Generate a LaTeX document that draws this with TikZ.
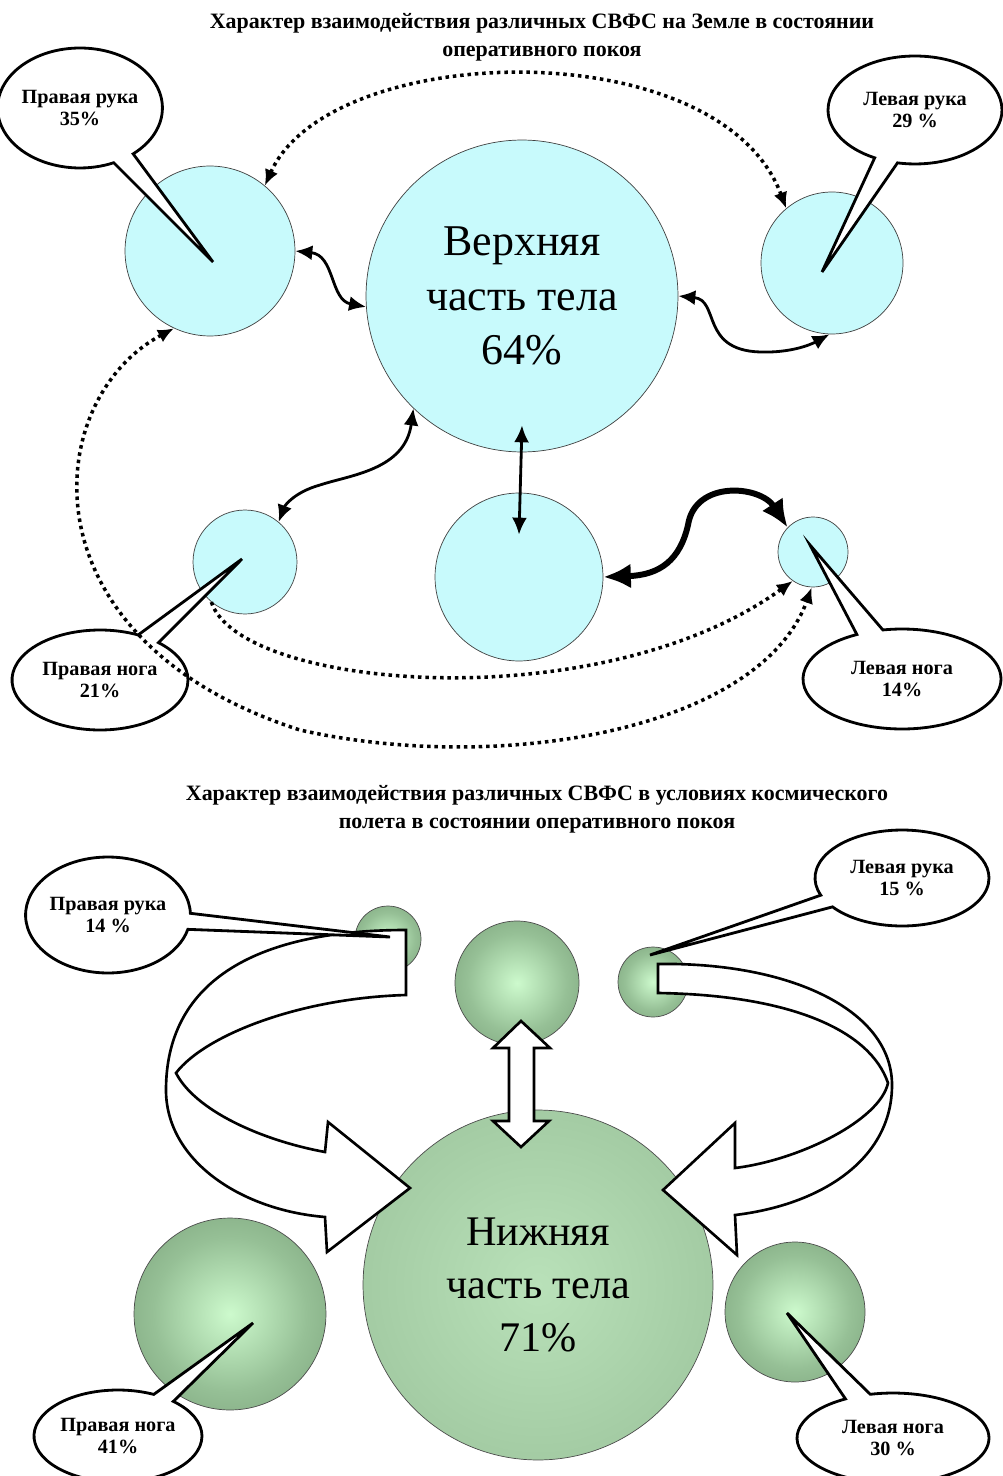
\documentclass[tikz,border=0pt]{standalone}
\usepackage{fontspec}
\setmainfont{Liberation Serif}
\usepackage{tikz}
\usetikzlibrary{arrows.meta,shapes.callouts,calc}

\definecolor{skyfill}{RGB}{200,250,252}
\definecolor{sphin}{RGB}{205,250,205}
\definecolor{sphmid}{RGB}{150,192,150}
\definecolor{sphout}{RGB}{98,135,98}
\definecolor{lowin}{RGB}{185,225,185}
\definecolor{lowout}{RGB}{142,182,142}
\pgfdeclareradialshading{sphshade}{\pgfpoint{0bp}{0bp}}{color(0bp)=(sphin); color(20bp)=(sphmid); color(50bp)=(sphout)}
\pgfdeclareradialshading{lowshade}{\pgfpoint{0bp}{0bp}}{color(0bp)=(lowin); color(50bp)=(lowout)}

\begin{document}
\begin{tikzpicture}[x=0.02cm,y=-0.02cm,>=latex]

		\tikzset{
			skycirc/.style={circle, draw=black!75, line width=0.4pt, fill=skyfill, inner sep=0pt},
			greenball/.style={circle, draw=black!70, line width=0.4pt, shading=sphshade, inner sep=0pt},
			bubble/.style={ellipse callout, draw=black, line width=1.6pt, fill=white, align=center,
				inner sep=0pt, callout pointer arc=16, font=\bfseries\fontsize{11.5}{13}\selectfont},
			headline/.style={align=center, font=\bfseries\fontsize{12.5}{15.9}\selectfont},
			dotlink/.style={line width=2pt, dash pattern=on 2pt off 2.2pt, >={Latex[length=0.32cm,width=0.28cm]}},
			wavelink/.style={line width=1.6pt, >={Latex[length=0.34cm,width=0.3cm]}},
			fatlink/.style={line width=3.4pt, >={Latex[length=0.55cm,width=0.5cm]}},
			blockarrow/.style={draw=black, line width=1.5pt, fill=white, line join=miter}
		}

		\useasboundingbox (0,0) rectangle (1003,1476);

		% ===== ВЕРХНЯЯ СХЕМА (НА ЗЕМЛЕ) =====
		\node[headline] (title1) at (542,37)
		{Характер взаимодействия различных СВФС на Земле в состоянии\\оперативного покоя};

		\node[skycirc, minimum size=3.4cm] (hRA) at (210,251) {};
		\node[skycirc, minimum size=2.84cm] (hLA) at (832,263) {};
		\node[skycirc, minimum size=6.24cm, align=center, font=\fontsize{25}{31}\selectfont] (hUp) at (522,296)
		{Верхняя\\часть тела\\64\%};
		\node[skycirc, minimum size=2.08cm] (hRL) at (245,562) {};
		\node[skycirc, minimum size=3.36cm] (hLow) at (519,577) {};
		\node[skycirc, minimum size=1.4cm] (hLL) at (813,552) {};

		% ===== ВЫНОСКИ =====
		\node[bubble, minimum width=2.72cm, minimum height=2.4cm, callout absolute pointer={(213,262)}] (cRA)
		at (80,108) {Правая рука\\35\%};
		\node[bubble, minimum width=3.48cm, minimum height=2.16cm, callout absolute pointer={(822,272)}] (cLA)
		at (915,110) {Левая рука\\29 \%};
		\node[bubble, minimum width=3.52cm, minimum height=2.0cm, callout absolute pointer={(242,559)}] (cRL)
		at (100,680) {Правая нога\\21\%};
		\node[bubble, minimum width=3.96cm, minimum height=2.0cm, callout absolute pointer={(810,545)}] (cLL)
		at (902,679) {Левая нога\\14\%};

		% ===== СВЯЗИ =====
		\draw[dotlink, <->] (hRA.50) .. controls (330,40) and (720,30) .. (hLA.130);
		\draw[wavelink, <->] (hRA.east) .. controls (335,255) and (330,300) .. (hUp.184);
		\draw[wavelink, <->] (hUp.east) .. controls (720,300) and (700,350) .. (760,352)
		.. controls (790,353) and (810,345) .. (hLA.268);
		\draw[dotlink, <->] (hRA.245) .. controls (40,400) and (20,640) .. (300,730)
		.. controls (500,775) and (760,730) .. (hLL.268);
		\draw[dotlink, ->] (hRL.230) .. controls (240,690) and (600,720) .. (hLL.235);
		\draw[wavelink, <->] (hUp.226) .. controls (405,470) and (350,475) .. (320,485)
		.. controls (295,492) and (285,505) .. (hRL.50);
		\draw[wavelink, <->] ([yshift=0.54cm]hUp.south) -- ([yshift=-0.84cm]hLow.north);
		\draw[fatlink, <->] (hLow.east) .. controls (660,575) and (680,560) .. (688,525)
		.. controls (695,480) and (760,485) .. (hLL.136);

		% ===== НИЖНЯЯ СХЕМА (КОСМИЧЕСКИЙ ПОЛЕТ) =====
		\node[headline] (title2) at (537,809)
		{Характер взаимодействия различных СВФС в условиях космического\\полета в состоянии оперативного покоя};

		\node[greenball, minimum size=1.32cm] (sRA) at (388,939) {};
		\node[greenball, minimum size=2.48cm] (sUp) at (517,983) {};
		\node[greenball, minimum size=1.4cm] (sLA) at (653,982) {};
		\node[greenball, minimum size=3.84cm] (sRL) at (230,1314) {};
		\node[greenball, minimum size=2.8cm] (sLL) at (795,1312) {};
		\node[greenball, shading=lowshade, minimum size=7cm, align=center, font=\fontsize{24}{30}\selectfont] (sLow)
		at (538,1285) {Нижняя\\часть тела\\71\%};

		% ===== ОБЪЕМНЫЕ СТРЕЛКИ =====
		\draw[blockarrow] (406,930) .. controls (250,930) and (166,985) .. (166,1090)
		.. controls (166,1160) and (240,1210) .. (325,1217)
		-- (327,1252) -- (410,1188) -- (328,1122) -- (325,1152)
		.. controls (260,1140) and (195,1110) .. (176,1073)
		.. controls (205,1035) and (300,998) .. (406,995) -- cycle;

		\draw[blockarrow] (658,964) .. controls (790,962) and (892,1010) .. (892,1085)
		.. controls (892,1160) and (820,1205) .. (735,1215)
		-- (737,1255) -- (663,1190) -- (735,1123) -- (735,1168)
		.. controls (800,1160) and (880,1120) .. (888,1083)
		.. controls (870,1030) and (790,995) .. (658,993) -- cycle;

		\draw[blockarrow] (521,1021) -- (550,1048) -- (534,1048) -- (534,1121) -- (549,1121)
		-- (521,1147) -- (493,1121) -- (509,1121) -- (509,1048) -- (493,1048) -- cycle;

		% ===== ВЫНОСКИ =====
		\node[bubble, minimum width=2.6cm, minimum height=2.32cm, callout absolute pointer={(390,937)}] (bRA)
		at (108,915) {Правая рука\\14 \%};
		\node[bubble, minimum width=3.48cm, minimum height=1.92cm, callout absolute pointer={(650,955)}] (bLA)
		at (902,878) {Левая рука\\15 \%};
		\node[bubble, minimum width=3.36cm, minimum height=1.84cm, callout absolute pointer={(253,1323)}] (bRL)
		at (118,1436) {Правая нога\\41\%};
		\node[bubble, minimum width=3.84cm, minimum height=1.8cm, callout absolute pointer={(787,1313)}] (bLL)
		at (893,1438) {Левая нога\\30 \%};

\end{tikzpicture}
\end{document}
